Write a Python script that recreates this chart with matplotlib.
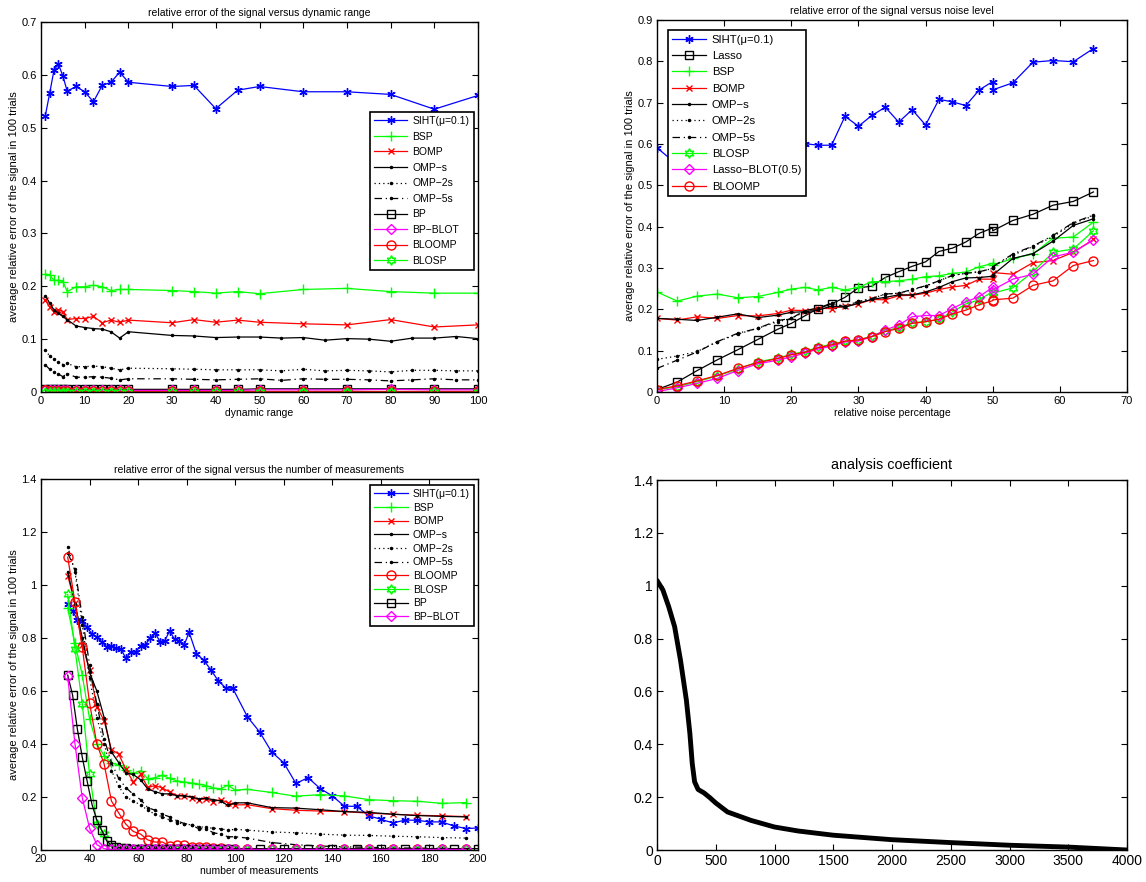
import matplotlib
matplotlib.use("Agg")
import matplotlib.pyplot as plt
from matplotlib.ticker import FuncFormatter, MultipleLocator

# --- CONFIGURATION ---
FIG_W, FIG_H, DPI = 11.46, 8.82, 100
plt.rcParams['font.family'] = ['Liberation Sans', 'DejaVu Sans']

# ---------------- top-left: error vs dynamic range ----------------
dr_x = [1, 2, 3, 4, 5, 6, 8, 10, 12, 14, 16, 18, 20, 30, 35, 40, 45, 50, 60, 70, 80, 90, 100]
dr_omp_x = [1, 2, 3, 4, 5, 6, 8, 10, 12, 14, 16, 18, 20, 30, 35, 40, 45, 50, 55, 60, 65, 70,
            75, 80, 85, 90, 95, 100]
dr_siht = [0.523, 0.566, 0.610, 0.620, 0.598, 0.569, 0.578, 0.568, 0.549, 0.580, 0.586, 0.605,
           0.586, 0.578, 0.580, 0.536, 0.571, 0.578, 0.568, 0.568, 0.563, 0.535, 0.561]
dr_bsp = [0.223, 0.221, 0.211, 0.211, 0.209, 0.190, 0.199, 0.199, 0.202, 0.199, 0.192, 0.194,
          0.194, 0.192, 0.190, 0.187, 0.190, 0.186, 0.194, 0.196, 0.190, 0.187, 0.187]
dr_bomp = [0.174, 0.160, 0.152, 0.156, 0.152, 0.137, 0.139, 0.139, 0.143, 0.131, 0.136, 0.132,
           0.136, 0.131, 0.137, 0.132, 0.136, 0.132, 0.129, 0.127, 0.137, 0.123, 0.127]
dr_omp_s = [0.182, 0.168, 0.155, 0.149, 0.143, 0.137, 0.125, 0.122, 0.120, 0.119, 0.114, 0.102,
            0.114, 0.107, 0.106, 0.103, 0.104, 0.104, 0.102, 0.103, 0.098, 0.101, 0.100, 0.096,
            0.102, 0.102, 0.105, 0.101]
dr_omp_2s = [0.079, 0.068, 0.062, 0.057, 0.052, 0.054, 0.048, 0.048, 0.049, 0.048, 0.045, 0.042,
             0.045, 0.044, 0.043, 0.042, 0.042, 0.042, 0.040, 0.043, 0.040, 0.041, 0.040, 0.038,
             0.041, 0.041, 0.040, 0.040]
dr_omp_5s = [0.051, 0.043, 0.038, 0.034, 0.029, 0.035, 0.028, 0.028, 0.029, 0.028, 0.026, 0.023,
             0.025, 0.025, 0.024, 0.023, 0.024, 0.025, 0.022, 0.025, 0.024, 0.024, 0.023, 0.021,
             0.023, 0.025, 0.023, 0.023]
dr_bp = [0.005, 0.005, 0.005, 0.005, 0.005, 0.005, 0.005, 0.005, 0.005, 0.005, 0.005, 0.005,
         0.005, 0.005, 0.005, 0.005, 0.005, 0.006, 0.006, 0.006, 0.006, 0.006, 0.006]
dr_bp_blot = [0.003, 0.003, 0.003, 0.003, 0.003, 0.003, 0.003, 0.003, 0.003, 0.003, 0.003, 0.003,
              0.003, 0.003, 0.003, 0.003, 0.003, 0.004, 0.004, 0.004, 0.005, 0.004, 0.004]
dr_bloomp = [0.004, 0.002, 0.001, 0.001, 0.001, 0.001, 0.001, 0.001, 0.001, 0.001, 0.001, 0.001,
             0.001, 0.001, 0.001, 0.001, 0.001, 0.001, 0.001, 0.001, 0.001, 0.001, 0.001]
dr_blosp = [0.0] * 23

# ---------------- top-right: error vs noise level ----------------
nz_x = [0, 3, 6, 9, 12, 15, 18, 20, 22, 24, 26, 28, 30, 32, 34, 36, 38, 40, 42, 44, 46, 48,
        50, 50, 53, 56, 59, 62, 65]
nz_siht = [0.591, 0.550, 0.570, 0.560, 0.580, 0.570, 0.590, 0.600, 0.601, 0.597, 0.597, 0.667,
           0.643, 0.669, 0.689, 0.653, 0.683, 0.646, 0.708, 0.702, 0.693, 0.731, 0.751, 0.731,
           0.748, 0.798, 0.802, 0.799, 0.831]
nz_lasso = [0.006, 0.024, 0.052, 0.078, 0.102, 0.127, 0.152, 0.166, 0.184, 0.202, 0.213, 0.229,
            0.252, 0.256, 0.277, 0.291, 0.304, 0.315, 0.340, 0.348, 0.363, 0.384, 0.397, 0.390,
            0.415, 0.430, 0.452, 0.461, 0.484]
nz_bsp = [0.242, 0.220, 0.232, 0.237, 0.228, 0.231, 0.241, 0.249, 0.253, 0.247, 0.253, 0.247,
          0.253, 0.267, 0.267, 0.269, 0.273, 0.279, 0.281, 0.287, 0.290, 0.303, 0.311, 0.307,
          0.323, 0.334, 0.372, 0.375, 0.411]
nz_bomp = [0.178, 0.174, 0.182, 0.178, 0.185, 0.184, 0.190, 0.198, 0.197, 0.202, 0.202, 0.208,
           0.213, 0.224, 0.223, 0.233, 0.234, 0.239, 0.248, 0.254, 0.258, 0.273, 0.273, 0.289,
           0.285, 0.313, 0.318, 0.338, 0.369]
nz_omp_s = [0.178, 0.176, 0.173, 0.181, 0.189, 0.180, 0.186, 0.193, 0.194, 0.198, 0.208, 0.205,
            0.215, 0.224, 0.229, 0.235, 0.235, 0.242, 0.253, 0.267, 0.276, 0.277, 0.280, 0.283,
            0.323, 0.335, 0.365, 0.403, 0.419]
nz_omp_2s = [0.079, 0.087, 0.098, 0.122, 0.140, 0.154, 0.170, 0.178, 0.194, 0.203, 0.213, 0.208,
             0.219, 0.226, 0.237, 0.239, 0.247, 0.256, 0.269, 0.282, 0.287, 0.291, 0.299, 0.303,
             0.331, 0.352, 0.376, 0.408, 0.426]
nz_omp_5s = [0.057, 0.077, 0.097, 0.122, 0.142, 0.154, 0.173, 0.178, 0.197, 0.203, 0.215, 0.206,
             0.219, 0.226, 0.237, 0.239, 0.248, 0.257, 0.269, 0.282, 0.287, 0.291, 0.299, 0.303,
             0.334, 0.353, 0.379, 0.410, 0.428]
nz_blosp = [0.005, 0.013, 0.025, 0.039, 0.055, 0.073, 0.082, 0.091, 0.098, 0.108, 0.116, 0.123,
            0.126, 0.135, 0.148, 0.156, 0.168, 0.170, 0.176, 0.194, 0.213, 0.223, 0.243, 0.239,
            0.252, 0.291, 0.338, 0.346, 0.390]
nz_lasso_blot = [0.001, 0.010, 0.021, 0.033, 0.052, 0.068, 0.077, 0.085, 0.094, 0.104, 0.111,
                 0.121, 0.123, 0.134, 0.150, 0.162, 0.182, 0.185, 0.185, 0.202, 0.218, 0.231,
                 0.253, 0.247, 0.273, 0.285, 0.327, 0.338, 0.368]
nz_bloomp = [0.006, 0.015, 0.027, 0.040, 0.057, 0.071, 0.081, 0.090, 0.096, 0.107, 0.114, 0.123,
             0.126, 0.134, 0.146, 0.154, 0.166, 0.170, 0.176, 0.189, 0.198, 0.211, 0.221, 0.223,
             0.227, 0.258, 0.269, 0.306, 0.318]

# ---------------- bottom-left: error vs number of measurements ----------------
ms_x_siht = [31, 33, 35, 37, 39, 41, 43, 45, 47, 49, 51, 53, 55, 57, 59, 61, 63, 65, 67, 69, 71,
             73, 75, 77, 79, 81, 84, 87, 90, 93, 96, 99, 105, 110, 115, 120, 125, 130, 135, 140,
             145, 150, 155, 160, 165, 170, 175, 180, 185, 190, 195, 200]
ms_siht = [0.927, 0.903, 0.868, 0.864, 0.840, 0.815, 0.803, 0.786, 0.767, 0.770, 0.761, 0.757,
           0.723, 0.748, 0.747, 0.771, 0.775, 0.799, 0.820, 0.786, 0.790, 0.827, 0.795, 0.790,
           0.774, 0.822, 0.740, 0.717, 0.679, 0.639, 0.612, 0.610, 0.503, 0.446, 0.370, 0.329,
           0.251, 0.273, 0.232, 0.204, 0.165, 0.165, 0.129, 0.116, 0.102, 0.113, 0.112, 0.106,
           0.106, 0.091, 0.081, 0.083]
ms_x = [31, 34, 37, 40, 43, 46, 49, 52, 55, 58, 61, 64, 67, 70, 73, 76, 79, 82, 85, 88, 91, 94,
        97, 100, 105, 115, 125, 135, 145, 155, 165, 175, 185, 195]
ms_bsp = [0.912, 0.780, 0.660, 0.495, 0.400, 0.356, 0.329, 0.320, 0.301, 0.289, 0.299, 0.268,
          0.273, 0.282, 0.270, 0.261, 0.256, 0.253, 0.248, 0.243, 0.234, 0.231, 0.244, 0.226,
          0.229, 0.217, 0.203, 0.209, 0.204, 0.190, 0.186, 0.184, 0.176, 0.179]
ms_bomp = [1.035, 0.931, 0.774, 0.680, 0.541, 0.488, 0.379, 0.362, 0.304, 0.257, 0.285, 0.236,
           0.243, 0.234, 0.219, 0.205, 0.204, 0.198, 0.190, 0.193, 0.183, 0.190, 0.178, 0.170,
           0.171, 0.156, 0.150, 0.147, 0.145, 0.139, 0.135, 0.131, 0.129, 0.126]
ms_omp_s = [1.050, 0.930, 0.800, 0.670, 0.600, 0.500, 0.370, 0.330, 0.290, 0.285, 0.265, 0.230,
            0.220, 0.212, 0.212, 0.205, 0.205, 0.200, 0.193, 0.195, 0.190, 0.185, 0.168, 0.178,
            0.178, 0.160, 0.158, 0.152, 0.145, 0.142, 0.135, 0.130, 0.127, 0.125]
ms_omp_2s = [1.145, 1.050, 0.850, 0.650, 0.500, 0.400, 0.300, 0.240, 0.200, 0.185, 0.170, 0.150,
             0.135, 0.125, 0.113, 0.103, 0.098, 0.095, 0.088, 0.085, 0.082, 0.080, 0.075, 0.078,
             0.075, 0.068, 0.065, 0.060, 0.056, 0.055, 0.052, 0.050, 0.047, 0.045]
ms_omp_5s = [1.120, 1.060, 0.880, 0.700, 0.550, 0.420, 0.330, 0.270, 0.235, 0.210, 0.190, 0.160,
             0.150, 0.135, 0.125, 0.110, 0.100, 0.095, 0.080, 0.080, 0.065, 0.060, 0.050, 0.050,
             0.045, 0.028, 0.020, 0.015, 0.012, 0.010, 0.008, 0.007, 0.006, 0.005]
ms_bloomp = [1.105, 0.935, 0.765, 0.555, 0.400, 0.325, 0.185, 0.140, 0.097, 0.070, 0.060, 0.038,
             0.030, 0.030, 0.015, 0.017, 0.018, 0.012, 0.012, 0.013, 0.008, 0.006, 0.005, 0.005,
             0.004, 0.003, 0.003, 0.003, 0.003, 0.003, 0.003, 0.003, 0.003, 0.003]
ms_blosp = [0.965, 0.758, 0.551, 0.285, 0.100, 0.060, 0.010, 0.005, 0.003, 0.002, 0.002, 0.002,
            0.002, 0.002, 0.002, 0.002, 0.002, 0.002, 0.002, 0.002, 0.002, 0.002, 0.002, 0.002,
            0.002, 0.002, 0.002, 0.002, 0.002, 0.002, 0.002, 0.002, 0.002, 0.002]
ms_x_bp = [31, 33, 35, 37, 39, 41, 43, 45, 47, 49, 51, 53, 55, 57, 59, 61, 63, 65, 67, 69, 71,
           73, 75, 77, 79, 81, 84, 87, 90, 93, 96, 99, 110, 120, 130, 140, 150, 160, 170, 180,
           190, 200]
ms_bp = [0.660, 0.585, 0.455, 0.350, 0.260, 0.172, 0.113, 0.075, 0.035, 0.017, 0.010, 0.008,
         0.006, 0.005, 0.005, 0.005, 0.005, 0.005, 0.005, 0.005, 0.005, 0.005, 0.005, 0.005,
         0.005, 0.005, 0.005, 0.005, 0.005, 0.005, 0.005, 0.005, 0.005, 0.005, 0.005, 0.005,
         0.005, 0.005, 0.005, 0.005, 0.005, 0.005]
ms_bp_blot = [0.655, 0.400, 0.197, 0.083, 0.020, 0.005, 0.002, 0.002, 0.002, 0.002, 0.002,
              0.002, 0.002, 0.002, 0.002, 0.002, 0.002, 0.002, 0.002, 0.002, 0.002, 0.002,
              0.002, 0.002, 0.002, 0.002, 0.002, 0.002, 0.002, 0.002, 0.002, 0.002, 0.002,
              0.002]

# ---------------- bottom-right: sorted analysis coefficients ----------------
ac_idx = [0, 50, 100, 150, 200, 250, 280, 300, 320, 350, 400, 450, 500, 600, 700, 800, 1000,
          1200, 1500, 2000, 2500, 3000, 3500, 4000]
ac_val = [1.02, 0.984, 0.92, 0.845, 0.718, 0.567, 0.44, 0.327, 0.258, 0.229, 0.216, 0.198,
          0.178, 0.144, 0.128, 0.112, 0.087, 0.072, 0.056, 0.039, 0.028, 0.018, 0.011, 0.0]

BLUE, GREEN, RED, MAG, BLK = '#0000ff', '#00ff00', '#ff0000', '#ff00ff', '#000000'
ASTER = (6, 2, 0)
HEXA = (6, 1, 0)
LW = 0.9

STYLES = {
    'SIHT(μ=0.1)': dict(color=BLUE, marker=ASTER, ms=6),
    'BSP': dict(color=GREEN, marker='+', ms=7),
    'BOMP': dict(color=RED, marker='x', ms=5),
    'OMP-s': dict(color=BLK, marker='.', ms=3, ls='-'),
    'OMP-2s': dict(color=BLK, marker='.', ms=3, ls=(0, (1, 2.5))),
    'OMP-5s': dict(color=BLK, marker='.', ms=3, ls=(0, (6, 3, 1, 3))),
    'BP': dict(color=BLK, marker='s', ms=5.5, mfc='none'),
    'Lasso': dict(color=BLK, marker='s', ms=5.5, mfc='none'),
    'BP-BLOT': dict(color=MAG, marker='D', ms=5, mfc='none'),
    'Lasso-BLOT(0.5)': dict(color=MAG, marker='D', ms=5, mfc='none'),
    'BLOOMP': dict(color=RED, marker='o', ms=6.5, mfc='none'),
    'BLOSP': dict(color=GREEN, marker=HEXA, ms=7, mfc='none'),
}

YLABEL = 'average relative error of the signal in 100 trials'


def draw(ax, x, y, name):
    st = dict(STYLES[name])
    ls = st.pop('ls', '-')
    ax.plot(x, y, ls=ls, lw=LW, label=name.replace('-', '\u2212'), **st)


def style_axes(ax, xlim, ylim, xstep, ystep, tick_fs):
    ax.set_xlim(*xlim)
    ax.set_ylim(*ylim)
    ax.xaxis.set_major_locator(MultipleLocator(xstep))
    ax.yaxis.set_major_locator(MultipleLocator(ystep))
    fmt = FuncFormatter(lambda v, p: '%g' % round(v, 6))
    ax.xaxis.set_major_formatter(fmt)
    ax.yaxis.set_major_formatter(fmt)
    ax.tick_params(direction='in', top=True, right=True, length=4, width=0.8,
                   labelsize=tick_fs, pad=3)
    for s in ax.spines.values():
        s.set_linewidth(1.0)


def legend(ax, loc, anchor, fs, spacing, hl=3.2):
    leg = ax.legend(loc=loc, bbox_to_anchor=anchor, fontsize=fs, fancybox=False,
                    framealpha=1, edgecolor='black', borderaxespad=0, handlelength=hl,
                    labelspacing=spacing, borderpad=0.4, handletextpad=0.5)
    leg.get_frame().set_linewidth(1.2)


def labels(ax, title, xlabel):
    ax.set_title(title, fontsize=7.5, pad=4)
    ax.set_xlabel(xlabel, fontsize=7.5, labelpad=1)
    ax.set_ylabel(YLABEL, fontsize=8, labelpad=2)


fig = plt.figure(figsize=(FIG_W, FIG_H), dpi=DPI)

# top-left
ax1 = fig.add_axes([41 / 1146, 490 / 882, 437 / 1146, 370 / 882])
draw(ax1, dr_x, dr_siht, 'SIHT(μ=0.1)')
draw(ax1, dr_x, dr_bsp, 'BSP')
draw(ax1, dr_x, dr_bomp, 'BOMP')
draw(ax1, dr_omp_x, dr_omp_s, 'OMP-s')
draw(ax1, dr_omp_x, dr_omp_2s, 'OMP-2s')
draw(ax1, dr_omp_x, dr_omp_5s, 'OMP-5s')
draw(ax1, dr_x, dr_bp, 'BP')
draw(ax1, dr_x, dr_bp_blot, 'BP-BLOT')
draw(ax1, dr_x, dr_bloomp, 'BLOOMP')
draw(ax1, dr_x, dr_blosp, 'BLOSP')
style_axes(ax1, (0, 100), (0, 0.7), 10, 0.1, 8)
labels(ax1, 'relative error of the signal versus dynamic range', 'dynamic range')
legend(ax1, 'upper right', (0.99, 0.757), 7.5, 0.53)

# top-right
ax2 = fig.add_axes([657 / 1146, 490 / 882, 470 / 1146, 372 / 882])
draw(ax2, nz_x, nz_siht, 'SIHT(μ=0.1)')
draw(ax2, nz_x, nz_lasso, 'Lasso')
draw(ax2, nz_x, nz_bsp, 'BSP')
draw(ax2, nz_x, nz_bomp, 'BOMP')
draw(ax2, nz_x, nz_omp_s, 'OMP-s')
draw(ax2, nz_x, nz_omp_2s, 'OMP-2s')
draw(ax2, nz_x, nz_omp_5s, 'OMP-5s')
draw(ax2, nz_x, nz_blosp, 'BLOSP')
draw(ax2, nz_x, nz_lasso_blot, 'Lasso-BLOT(0.5)')
draw(ax2, nz_x, nz_bloomp, 'BLOOMP')
style_axes(ax2, (0, 70), (0, 0.9), 10, 0.1, 8)
labels(ax2, 'relative error of the signal versus noise level', 'relative noise percentage')
legend(ax2, 'upper left', (0.023, 0.973), 8.15, 0.56, hl=3.0)

# bottom-left
ax3 = fig.add_axes([41 / 1146, 32 / 882, 437 / 1146, 371 / 882])
draw(ax3, ms_x_siht, ms_siht, 'SIHT(μ=0.1)')
draw(ax3, ms_x, ms_bsp, 'BSP')
draw(ax3, ms_x, ms_bomp, 'BOMP')
draw(ax3, ms_x, ms_omp_s, 'OMP-s')
draw(ax3, ms_x, ms_omp_2s, 'OMP-2s')
draw(ax3, ms_x, ms_omp_5s, 'OMP-5s')
draw(ax3, ms_x, ms_bloomp, 'BLOOMP')
draw(ax3, ms_x, ms_blosp, 'BLOSP')
draw(ax3, ms_x_bp, ms_bp, 'BP')
draw(ax3, ms_x, ms_bp_blot, 'BP-BLOT')
style_axes(ax3, (20, 200), (0, 1.4), 20, 0.2, 8)
labels(ax3, 'relative error of the signal versus the number of measurements',
       'number of measurements')
legend(ax3, 'upper right', (0.991, 0.984), 7.5, 0.35)

# bottom-right
ax4 = fig.add_axes([657 / 1146, 32 / 882, 470 / 1146, 370 / 882])
ax4.plot(ac_idx, ac_val, color='black', lw=3.5, solid_capstyle='round')
style_axes(ax4, (0, 4000), (0, 1.4), 500, 0.2, 10)
ax4.set_title('analysis coefficient', fontsize=10.4, pad=8)

fig.savefig('out.png', dpi=DPI)
